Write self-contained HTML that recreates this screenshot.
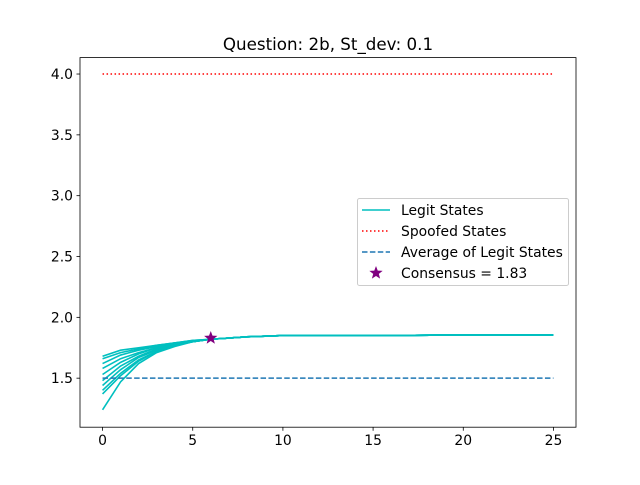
<!DOCTYPE html>
<html><head><meta charset="utf-8"><style>
body{margin:0;background:#fff;}
svg text{font-family:"DejaVu Sans","Liberation Sans",sans-serif;}
</style></head><body>
<svg id="chart" width="640" height="480" xmlns="http://www.w3.org/2000/svg">
<rect width="640" height="480" fill="#fff"/>
<g id="plot"></g>
</svg>
<script>
const times = [0,1,2,3,4,5,6,7,8,10,15,20,25];
const tail = [1.83,1.84,1.85,1.85,1.855,1.855];
const legit1 = [1.68,1.73,1.75,1.77,1.79,1.81,1.82];
const legit2 = [1.66,1.71,1.74,1.77,1.79,1.81,1.82];
const legit3 = [1.62,1.69,1.73,1.76,1.79,1.80,1.82];
const legit4 = [1.58,1.66,1.71,1.75,1.78,1.80,1.82];
const legit5 = [1.53,1.63,1.70,1.75,1.78,1.80,1.82];
const legit6 = [1.48,1.60,1.68,1.74,1.78,1.80,1.82];
const legit7 = [1.44,1.57,1.67,1.73,1.77,1.80,1.82];
const legit8 = [1.40,1.54,1.65,1.72,1.77,1.80,1.82];
const legit9 = [1.37,1.52,1.64,1.72,1.77,1.80,1.82];
const legit10 = [1.24,1.47,1.62,1.71,1.76,1.80,1.82];
const spoofed = 4.0;
const average = 1.5;
const consensusT = 6;
const consensusV = 1.83;
const xTicks = [0,5,10,15,20,25];
const yTicks = [1.5,2.0,2.5,3.0,3.5,4.0];

const L=80,R=576,T=57.6,B=427.2;
const xmin=-1.25,xmax=26.25,ymin=1.097,ymax=4.135;
const X=v=>L+(v-xmin)/(xmax-xmin)*(R-L);
const Y=v=>B-(v-ymin)/(ymax-ymin)*(B-T);
const NS="http://www.w3.org/2000/svg";
const g=document.getElementById('plot');
function mk(tag,attrs,parent){const e=document.createElementNS(NS,tag);for(const k in attrs)e.setAttribute(k,attrs[k]);(parent||g).appendChild(e);return e;}

const series=[legit1,legit2,legit3,legit4,legit5,legit6,legit7,legit8,legit9,legit10];
series.forEach((s,i)=>{
  const vals=s.concat(tail);
  const d=vals.map((v,j)=>(j?'L':'M')+X(times[j]).toFixed(2)+' '+Y(v).toFixed(2)).join(' ');
  const p=mk('path',{d:d,fill:'none',stroke:'#00bfbf','stroke-width':1.6});
  
  
});
const sp=mk('line',{x1:X(0),x2:X(25),y1:Y(spoofed),y2:Y(spoofed),stroke:'#ff0000','stroke-width':1.5,'stroke-dasharray':'1.5 2.5'});


const av=mk('line',{x1:X(0),x2:X(25),y1:Y(average),y2:Y(average),stroke:'#1f77b4','stroke-width':1.5,'stroke-dasharray':'5.5 2.4'});


function star(cx,cy,r){let pts=[];for(let i=0;i<10;i++){const a=-Math.PI/2+i*Math.PI/5;const rr=i%2?r*0.42:r;pts.push((cx+rr*Math.cos(a)).toFixed(2)+','+(cy+rr*Math.sin(a)).toFixed(2));}return pts.join(' ');}
const cs=mk('polygon',{points:star(X(consensusT),Y(consensusV),7),fill:'#800080'});



const frame=mk('rect',{x:L,y:T,width:R-L,height:B-T,fill:'none',stroke:'#000','stroke-width':0.8});


xTicks.forEach(t=>{
  const tk=mk('line',{x1:X(t),x2:X(t),y1:B,y2:B+3.5,stroke:'#000','stroke-width':0.8});
  
  
  const tx=mk('text',{x:X(t),y:B+18,'text-anchor':'middle','font-size':'13.9'});
  tx.textContent=t;
  
  
});
yTicks.forEach(t=>{
  const tk=mk('line',{x1:L-3.5,x2:L,y1:Y(t),y2:Y(t),stroke:'#000','stroke-width':0.8});
  
  
  const tx=mk('text',{x:L-7,y:Y(t)+5,'text-anchor':'end','font-size':'13.9'});
  tx.textContent=t.toFixed(1);
  
  
});
const title=mk('text',{x:(L+R)/2,y:50,'text-anchor':'middle','font-size':'16.7'});
title.textContent='Question: 2b, St_dev: 0.1';



const lg=mk('g',{});


mk('rect',{x:357.5,y:198.5,width:211,height:87,rx:2,fill:'#fff',stroke:'#ccc','stroke-width':1},lg);
const labels=['Legit States','Spoofed States','Average of Legit States','Consensus = '+consensusV.toFixed(2)];
const ly=[210,231,252,273];
mk('line',{x1:362,x2:390,y1:ly[0],y2:ly[0],stroke:'#00bfbf','stroke-width':1.5},lg);
mk('line',{x1:362,x2:390,y1:ly[1],y2:ly[1],stroke:'#ff0000','stroke-width':1.5,'stroke-dasharray':'1.5 2.5'},lg);
mk('line',{x1:362,x2:390,y1:ly[2],y2:ly[2],stroke:'#1f77b4','stroke-width':1.5,'stroke-dasharray':'5.5 2.4'},lg);
mk('polygon',{points:star(376,ly[3],7),fill:'#800080'},lg);
labels.forEach((s,i)=>{
  const t=mk('text',{x:401,y:ly[i]+5,'font-size':'13.9'},lg);
  t.textContent=s;
  
  
});
</script>
</body></html>
